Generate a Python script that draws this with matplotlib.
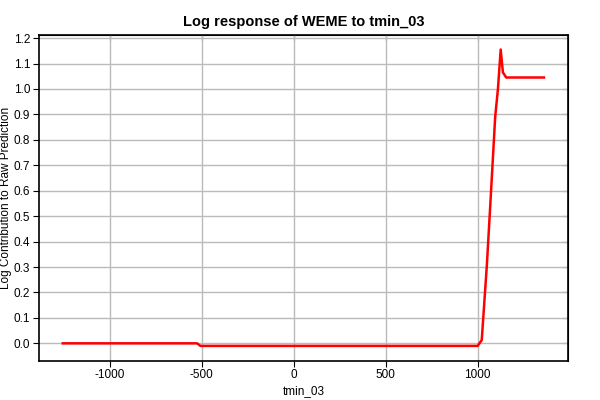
import matplotlib
matplotlib.use('Agg')
import matplotlib.pyplot as plt

plt.rcParams['font.family'] = ['Liberation Sans', 'DejaVu Sans']
plt.rcParams['axes.unicode_minus'] = False

# tmin_03 の応答曲線
tmin = [-1255, -525, -507, 1000, 1022, 1050, 1072, 1095, 1110, 1125, 1137, 1155, 1360]
contrib = [0.0, 0.0, -0.01, -0.01, 0.013, 0.31, 0.59, 0.89, 1.0, 1.155, 1.065, 1.045, 1.045]

xticks = [-1000, -500, 0, 500, 1000]
yticks = [0.0, 0.1, 0.2, 0.3, 0.4, 0.5, 0.6, 0.7, 0.8, 0.9, 1.0, 1.1, 1.2]

fig = plt.figure(figsize=(6, 4), dpi=100)
ax = fig.add_axes([38.7 / 600, 1 - 360.7 / 400, 529.3 / 600, 326 / 400])

ax.plot(tmin, contrib, color='red', lw=1.8)
ax.margins(0.05)

ax.set_xticks(xticks)
ax.set_yticks(yticks)
ax.set_yticklabels([f'{v:.1f}' for v in yticks])
ax.tick_params(labelsize=8.5, length=4, pad=2, direction='out', color='black')
ax.grid(True, color='#bbbbbb', lw=1)
ax.set_axisbelow(True)

# 上と右は内向きの目盛り
top = ax.secondary_xaxis('top')
top.set_xticks(xticks)
top.tick_params(direction='in', length=4, labeltop=False)
right = ax.secondary_yaxis('right')
right.set_yticks(yticks)
right.tick_params(direction='in', length=4, labelright=False)

for s in ax.spines.values():
    s.set_linewidth(1.2)

ax.set_title('Log response of WEME to tmin_03', fontsize=10.5, fontweight='bold', pad=6)
ax.set_xlabel('tmin_03', fontsize=8.5, labelpad=3)
ax.set_ylabel('Log Contribution to Raw Prediction', fontsize=8.5, labelpad=1)

fig.savefig('out.png', dpi=100)
